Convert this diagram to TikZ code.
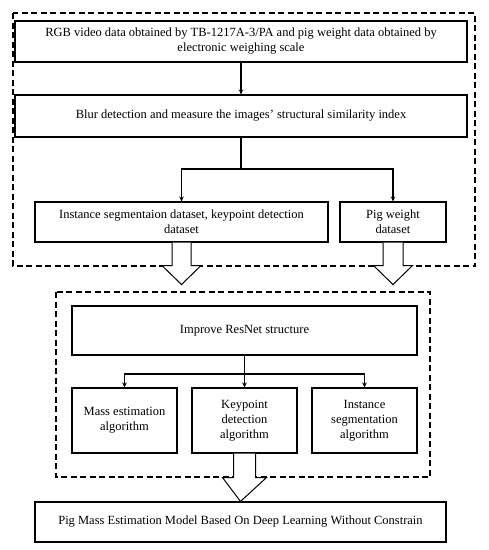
\documentclass[tikz,border=0pt]{standalone}
\usepackage{fontspec}
\setmainfont{Liberation Serif}
\usetikzlibrary{arrows.meta,calc}
\begin{document}
\begin{tikzpicture}[x=1pt,y=-1pt,
  box/.style={draw,line width=1.1pt,align=center,inner sep=0pt,font=\fontsize{12.5}{15}\selectfont},
  frame/.style={draw,line width=1.2pt,dash pattern=on 6pt off 3.5pt},
  conn/.style={line width=1.1pt,-{Stealth[length=5pt,width=4.5pt]}},
  hollow/.style={draw,line width=1pt,fill=white}]
\useasboundingbox (0,0) rectangle (489,550);
% frames
\draw[frame] (13,13) rectangle (475,266);
\draw[frame] (56,292) rectangle (430,477);
% nodes
\node[box,minimum width=452pt,minimum height=41pt] (A) at (241,41.5) {RGB video data obtained by TB-1217A-3/PA and pig weight data obtained by\\electronic weighing scale};
\node[box,minimum width=452pt,minimum height=42pt] (B) at (241,116) {Blur detection and measure the images’ structural similarity index};
\node[box,minimum width=293pt,minimum height=40pt] (C) at (181.5,222) {Instance segmentaion dataset, keypoint detection\\dataset};
\node[box,minimum width=106pt,minimum height=40pt] (D) at (393,222) {Pig weight\\dataset};
\node[box,minimum width=345pt,minimum height=49pt] (E) at (244.5,330.5) {Improve ResNet structure};
\node[box,minimum width=105pt,minimum height=65pt] (F) at (124.5,420.5) {Mass estimation\\algorithm};
\node[box,minimum width=105pt,minimum height=65pt] (G) at (244.5,420.5) {Keypoint\\detection\\algorithm};
\node[box,minimum width=105pt,minimum height=65pt] (H) at (364.5,420.5) {Instance\\segmentation\\algorithm};
\node[box,minimum width=411pt,minimum height=40pt] (I) at (240.5,522) {Pig Mass Estimation Model Based On Deep Learning Without Constrain};
% connectors
\coordinate (b1) at (241,169);
\coordinate (e1) at (244.5,374);
\draw[conn] (A.south) -- (B.north);
\draw[line width=1.1pt] (B.south) -- (b1);
\draw[conn] (b1) -| (C.north);
\draw[conn] (b1) -| (D.north);
\draw[line width=1.1pt] (E.south) -- (e1);
\draw[conn] (e1) -| (F.north);
\draw[conn] (e1) -- (G.north);
\draw[conn] (e1) -| (H.north);
% hollow arrows
\draw[hollow] ($(C.south)+(-9.5,0)$) -- ++(0,23) -- ++(-10,0) -- ($(C.south)+(0,42)$) -- ($(C.south)+(19.5,23)$) -- ++(-10,0) -- ($(C.south)+(9.5,0)$);
\draw[hollow] ($(D.south)+(-10,0)$) -- ++(0,23) -- ++(-9.5,0) -- ($(D.south)+(0,42)$) -- ($(D.south)+(19.5,23)$) -- ++(-9.5,0) -- ($(D.south)+(10,0)$);
\draw[hollow] ($(G.south)+(-11,0)$) -- ++(0,24) -- ++(-11,0) -- (I.north) -- ($(G.south)+(22,24)$) -- ++(-11,0) -- ($(G.south)+(11,0)$);
\end{tikzpicture}
\end{document}
